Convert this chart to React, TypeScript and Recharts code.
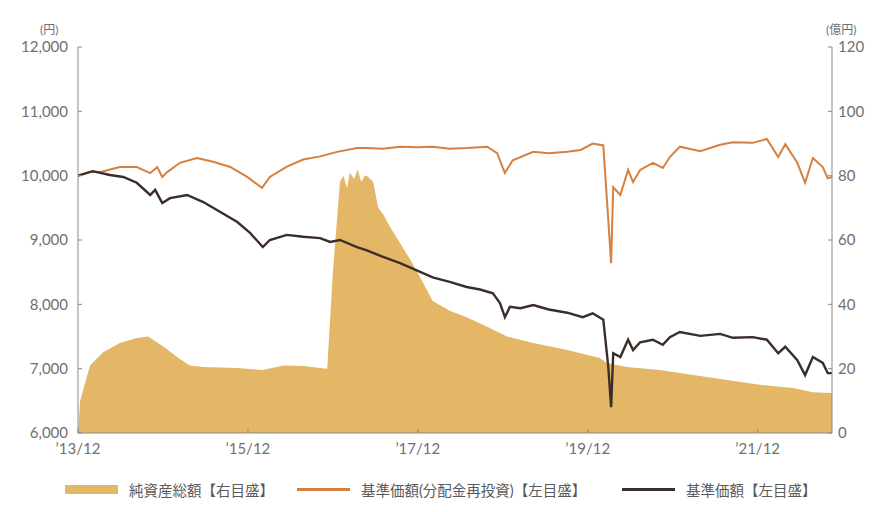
import React from 'react';
import { ComposedChart, Area, Line, XAxis, YAxis } from 'recharts';

// x positions are months counted from 2013/12
const navMonths = [0, 2.1, 4.5, 6.4, 8.3, 10.2, 10.9, 11.9, 13.0, 15.4, 17.7, 20.1, 22.5, 24.3, 26.1, 27.1, 29.5, 31.8, 34.2, 35.6, 37.0, 39.4, 40.8, 43.0, 45.5, 48.0, 50.1, 52.5, 54.9, 56.8, 58.6, 59.6, 60.3, 61.0, 62.5, 64.3, 66.5, 69.1, 71.3, 72.7, 74.2, 74.9, 75.3, 75.6, 76.6, 77.7, 78.4, 79.4, 81.2, 82.6, 83.6, 85.0, 87.9, 90.7, 92.5, 95.3, 97.3, 98.9, 99.9, 101.6, 102.7, 103.8, 105.2, 105.9, 106.5];
const navValues = [10000, 10070, 10010, 9980, 9890, 9700, 9780, 9575, 9650, 9700, 9590, 9435, 9280, 9110, 8890, 9000, 9080, 9050, 9030, 8970, 9000, 8890, 8840, 8740, 8640, 8520, 8420, 8350, 8270, 8230, 8170, 8020, 7800, 7960, 7940, 7990, 7920, 7870, 7800, 7860, 7760, 7030, 6400, 7240, 7180, 7450, 7290, 7410, 7450, 7370, 7490, 7570, 7510, 7540, 7480, 7490, 7450, 7240, 7340, 7130, 6900, 7180, 7090, 6930, 6930];

const reinvMonths = [0, 1.7, 3.1, 5.9, 8.3, 10.2, 11.2, 11.9, 12.6, 14.4, 16.8, 19.1, 21.5, 23.9, 26.0, 27.1, 29.5, 31.8, 34.2, 36.6, 39.4, 40.8, 43.0, 45.5, 48.0, 50.1, 52.5, 54.9, 57.8, 59.2, 60.3, 61.4, 64.3, 66.5, 69.1, 71.0, 72.7, 74.2, 74.9, 75.3, 75.6, 76.6, 77.7, 78.4, 79.4, 81.2, 82.6, 83.6, 85.0, 87.9, 90.7, 92.5, 95.3, 97.3, 98.9, 99.9, 101.6, 102.7, 103.8, 105.2, 105.9, 106.5];
const reinvValues = [10000, 10060, 10055, 10135, 10135, 10040, 10135, 9980, 10055, 10200, 10275, 10215, 10135, 9980, 9810, 9980, 10140, 10250, 10300, 10370, 10430, 10430, 10420, 10450, 10440, 10450, 10420, 10430, 10450, 10350, 10040, 10240, 10370, 10350, 10370, 10400, 10500, 10470, 9310, 8640, 9820, 9700, 10090, 9900, 10090, 10200, 10120, 10290, 10450, 10380, 10480, 10520, 10510, 10570, 10290, 10490, 10200, 9890, 10275, 10135, 9960, 9980];

const assetMonths = [0, 0.3, 1.7, 3.5, 5.9, 8.3, 9.9, 12.0, 14.0, 15.8, 17.7, 22.5, 26.1, 29.0, 31.8, 34.2, 35.2, 36.0, 37.0, 37.5, 38.0, 38.4, 39.0, 39.5, 40.0, 40.5, 40.8, 41.7, 42.4, 43.1, 44.1, 45.5, 46.9, 48.3, 50.1, 52.5, 54.9, 57.8, 60.6, 64.3, 69.1, 73.7, 74.7, 77.5, 82.2, 86.9, 91.7, 96.3, 101.0, 103.8, 106.5];
const assetValues = [0, 10, 21, 25, 28, 29.5, 30, 27, 23.6, 21, 20.5, 20.2, 19.6, 21, 20.8, 20.2, 20, 50, 78, 80, 76, 81, 79, 82, 78, 80, 80, 78, 70, 68, 64, 59, 54, 48.5, 41, 38, 36, 33, 30, 28, 25.8, 23.3, 21.8, 20.5, 19.6, 18, 16.5, 15, 14, 12.7, 12.4];

const monthTicks = [0, 24, 48, 72, 96];
const monthLabels = ['’13/12', '’15/12', '’17/12', '’19/12', '’21/12'];
const yenTicks = [6000, 7000, 8000, 9000, 10000, 11000, 12000];
const okuTicks = [0, 20, 40, 60, 80, 100, 120];

const legendItems = [
  { name: '純資産総額【右目盛】', color: '#e3b766', width: 9, left: 65 },
  { name: '基準価額(分配金再投資)【左目盛】', color: '#d6803f', width: 3, left: 297 },
  { name: '基準価額【左目盛】', color: '#3b2e2a', width: 3, left: 622 },
];

const navData = navMonths.map((m, i) => ({ m, nav: navValues[i] }));
const reinvData = reinvMonths.map((m, i) => ({ m, reinv: reinvValues[i] }));
const assetData = assetMonths.map((m, i) => ({ m, asset: assetValues[i] }));

const tickStyle = { fontSize: 15, fill: '#707070', fontFamily: 'Lato, sans-serif' };

export default function App() {
  return (
    <div style={{ position: 'absolute', left: 0, top: 0, width: 872, height: 512, background: '#fff', fontFamily: 'Lato, "Noto Sans CJK JP", sans-serif' }}>
      <ComposedChart width={872} height={512} margin={{ top: 47, right: 0, left: 0, bottom: 49 }}>
        <XAxis
          type="number"
          dataKey="m"
          domain={[0, 106.5]}
          ticks={monthTicks}
          tickFormatter={(v: number) => monthLabels[monthTicks.indexOf(v)]}
          height={30}
          tickSize={-4}
          tickMargin={14}
          stroke="#8a8a8a"
          tick={tickStyle}
          allowDataOverflow
        />
        <YAxis
          yAxisId="left"
          orientation="left"
          domain={[6000, 12000]}
          ticks={yenTicks}
          tickFormatter={(v: number) => v.toLocaleString('en-US')}
          width={78}
          tickSize={-4}
          tickMargin={14}
          stroke="#8a8a8a"
          tick={tickStyle}
          allowDataOverflow
        />
        <YAxis
          yAxisId="right"
          orientation="right"
          domain={[0, 120]}
          ticks={okuTicks}
          width={40}
          tickSize={-4}
          tickMargin={10}
          stroke="#8a8a8a"
          tick={{ ...tickStyle, textAnchor: 'start' }}
          allowDataOverflow
        />
        <Area
          yAxisId="right"
          data={assetData}
          dataKey="asset"
          type="linear"
          stroke="none"
          fill="#e3b766"
          fillOpacity={1}
          isAnimationActive={false}
        />
        <Line
          yAxisId="left"
          data={reinvData}
          dataKey="reinv"
          type="linear"
          stroke="#d6803f"
          strokeWidth={2}
          dot={false}
          isAnimationActive={false}
        />
        <Line
          yAxisId="left"
          data={navData}
          dataKey="nav"
          type="linear"
          stroke="#3b2e2a"
          strokeWidth={2.4}
          dot={false}
          isAnimationActive={false}
        />
      </ComposedChart>
      <div style={{ position: 'absolute', left: 40, top: 20, fontSize: 12, color: '#707070' }}>(円)</div>
      <div style={{ position: 'absolute', left: 826, top: 20, fontSize: 12, color: '#707070' }}>(億円)</div>
      {legendItems.map((item) => (
        <div key={item.name} style={{ position: 'absolute', left: item.left, top: 479, display: 'flex', alignItems: 'center', fontSize: 14.5, color: '#5a5a5a', whiteSpace: 'nowrap' }}>
          <div style={{ width: 53, height: item.width, background: item.color, marginRight: 11 }} />
          <span>{item.name}</span>
        </div>
      ))}
    </div>
  );
}
